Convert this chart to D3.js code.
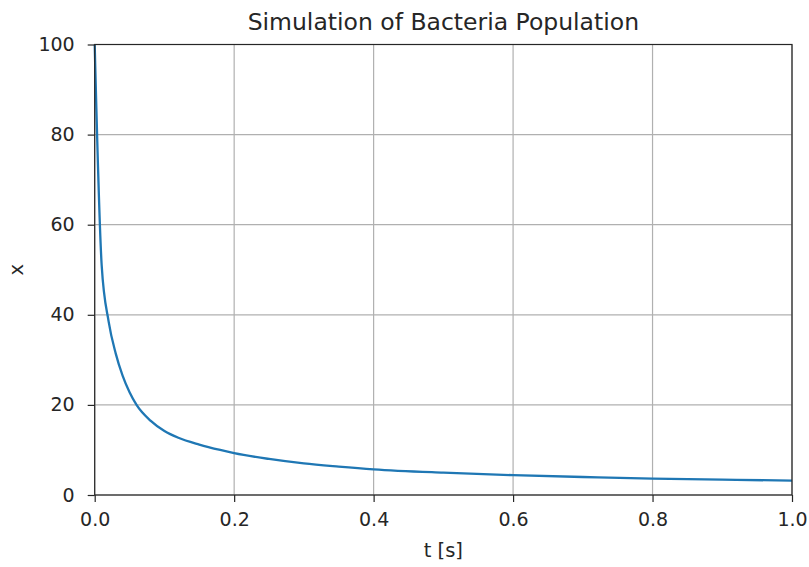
<!DOCTYPE html>
<meta charset="utf-8">
<style>
body{margin:0;background:#fff;}
svg{display:block}
text{font-family:"DejaVu Sans",sans-serif;fill:#262626;}
</style>
<svg id="chart" width="809" height="567"></svg>
<script src="https://d3js.org/d3.v7.min.js"></script>
<script>
// time samples and population
const T = [0, 0.01, 0.02, 0.03, 0.04, 0.05, 0.06, 0.08, 0.10, 0.12, 0.15, 0.18, 0.2, 0.25, 0.3, 0.35, 0.4, 0.5, 0.6, 0.7, 0.8, 0.9, 1.0]
const X = [100, 51, 38.5, 31.5, 26.5, 22.8, 20, 16.5, 14.2, 12.7, 11.2, 10.0, 9.3, 8.0, 7.0, 6.3, 5.7, 4.95, 4.4, 4.0, 3.65, 3.4, 3.2]
const xTicks = [0, 0.2, 0.4, 0.6, 0.8, 1.0]
const yTicks = [0, 20, 40, 60, 80, 100]

const svg = d3.select('#chart')
const mLeft = 94.7, mRight = 792, mTop = 44.5, mBottom = 495

const x = d3.scaleLinear().domain([0, 1]).range([mLeft, mRight])
const y = d3.scaleLinear().domain([0, 100]).range([mBottom, mTop])

// grid
svg.append('g').selectAll('line').data(xTicks).join('line')
  .attr('x1', d => x(d)).attr('x2', d => x(d))
  .attr('y1', mTop).attr('y2', mBottom)
  .attr('stroke', '#b0b0b0').attr('stroke-width', 1.2)
svg.append('g').selectAll('line').data(yTicks).join('line')
  .attr('x1', mLeft).attr('x2', mRight)
  .attr('y1', d => y(d)).attr('y2', d => y(d))
  .attr('stroke', '#b0b0b0').attr('stroke-width', 1.2)

// the curve
const line = d3.line()
  .x((d, i) => x(T[i]))
  .y(d => y(d))
  .curve(d3.curveMonotoneX)
svg.append('path')
  .datum(X)
  .attr('d', line)
  .attr('fill', 'none')
  .attr('stroke', '#1f77b4')
  .attr('stroke-width', 2.3)

// axes
const xAxis = svg.append('g').attr('transform', `translate(0,${mBottom})`)
  .call(d3.axisBottom(x).tickValues(xTicks).tickFormat(d3.format('.1f')).tickSize(7).tickPadding(11))
const yAxis = svg.append('g').attr('transform', `translate(${mLeft},0)`)
  .call(d3.axisLeft(y).tickValues(yTicks).tickSize(7).tickPadding(13))
;[xAxis, yAxis].forEach(a => {
  a.select('.domain').remove()
  a.selectAll('line').attr('stroke', '#262626').attr('stroke-width', 1.2)
  a.selectAll('text').style('font-size', '19px').attr('fill', '#262626')
})

// frame
svg.append('rect')
  .attr('x', mLeft).attr('y', mTop)
  .attr('width', mRight - mLeft).attr('height', mBottom - mTop)
  .attr('fill', 'none').attr('stroke', '#262626').attr('stroke-width', 1.2)

svg.append('text')
  .attr('x', (mLeft + mRight) / 2).attr('y', 30)
  .attr('text-anchor', 'middle')
  .style('font-size', '23.5px')
  .text('Simulation of Bacteria Population')

svg.append('text')
  .attr('x', (mLeft + mRight) / 2).attr('y', 557)
  .attr('text-anchor', 'middle')
  .style('font-size', '19.5px')
  .text('t [s]')

svg.append('text')
  .attr('transform', `translate(23,${(mTop + mBottom) / 2}) rotate(-90)`)
  .attr('text-anchor', 'middle')
  .style('font-size', '19.5px')
  .text('x')
</script>
